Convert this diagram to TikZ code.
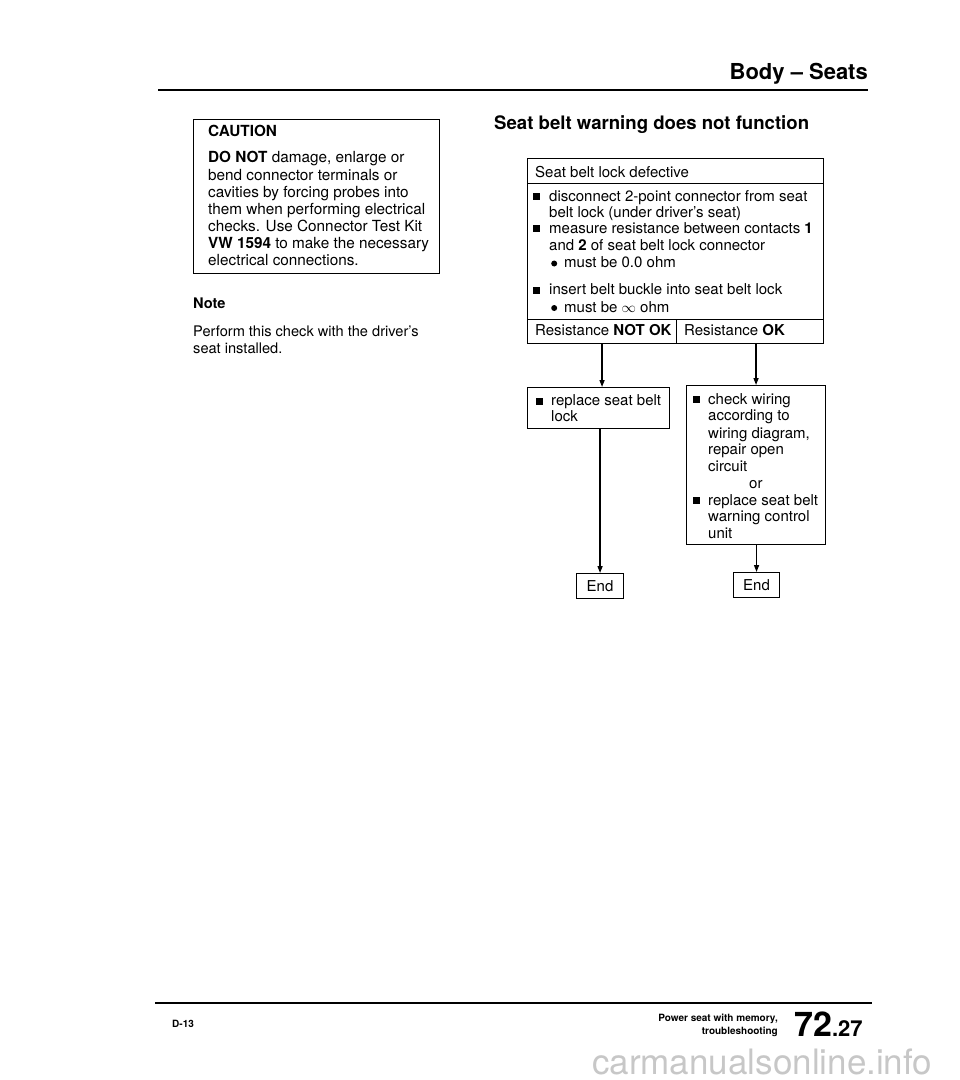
\documentclass[tikz,border=0pt]{standalone}
\usepackage{fontspec}
\setmainfont{TeX Gyre Heros}
\usetikzlibrary{arrows.meta}
\newcommand{\bodyfont}{\fontsize{15}{17}\selectfont}
\newcommand{\cautfont}{\fontsize{15.3}{17}\selectfont}
\newcommand{\notefont}{\fontsize{14.6}{17}\selectfont}
\newcommand{\sqb}{\rule[1pt]{7pt}{7pt}}
\newcommand{\rdot}{\tikz[baseline=-4pt]\fill (0,0) circle[radius=3pt];}
\begin{document}
\begin{tikzpicture}[x=1pt,y=-1pt,
  box/.style={draw, line width=1.1pt, inner sep=0pt, anchor=north west},
  txt/.style={anchor=base west, inner sep=0pt, font=\bodyfont},
  ctx/.style={anchor=base west, inner sep=0pt, font=\cautfont},
  ntx/.style={anchor=base west, inner sep=0pt, font=\notefont},
  ctxt/.style={anchor=base, inner sep=0pt, font=\bodyfont},
  arr/.style={line width=1.5pt, -{Triangle[length=7pt,width=5pt]}},
  rule/.style={line width=2.2pt}]
\useasboundingbox (0,0) rectangle (960,1080);

% header
\node[anchor=base east, inner sep=0pt, font=\fontsize{22}{24}\selectfont\bfseries] (head) at (868,79) {Body -- Seats};
\coordinate (hl) at (158,90);
\coordinate (hr) at (868,90);
\draw[rule] (hl) -- (hr);

% caution box
\node[box, minimum width=246pt, minimum height=154pt] (caution) at (193,119) {};
\node[ctx, font=\cautfont\bfseries] (cap) at (208,136.5) {CAUTION};
\node[ctx] (c1) at (208,162.5) {\textbf{DO NOT} damage, enlarge or};
\node[ctx] (c2) at (208,180) {bend connector terminals or};
\node[ctx] (c3) at (208,197.5) {cavities by forcing probes into};
\node[ctx] (c4) at (208,214) {them when performing electrical};
\node[ctx] (c5) at (208,231) {checks. Use Connector Test Kit};
\node[ctx] (c6) at (208,248) {\textbf{VW 1594} to make the necessary};
\node[ctx] (c7) at (208,265) {electrical connections.};

% note
\node[ntx, font=\notefont\bfseries] (note) at (193,308.5) {Note};
\node[ntx] (n1) at (193,336.5) {Perform this check with the driver's};
\node[ntx] (n2) at (193,353) {seat installed.};

% title
\node[anchor=base west, inner sep=0pt, font=\fontsize{18.6}{20}\selectfont\bfseries] (title) at (494,129) {Seat belt warning does not function};

% main box
\node[box, minimum width=296pt, minimum height=25pt] (hdr) at (527,158) {};
\node[box, minimum width=296pt, minimum height=136pt] (body) at (527,183) {};
\node[box, minimum width=149pt, minimum height=24pt] (r1) at (527,319) {};
\node[box, minimum width=147pt, minimum height=24pt] (r2) at (676,319) {};

\node[txt] at (535,177.5) {Seat belt lock defective};
\node[txt] at (533,201) {\makebox[16pt][l]{\sqb}disconnect 2-point connector from seat};
\node[txt] at (549,217) {belt lock (under driver's seat)};
\node[txt] at (533,233) {\makebox[16pt][l]{\sqb}measure resistance between contacts \textbf{1}};
\node[txt] at (549,250) {and \textbf{2} of seat belt lock connector};
\node[txt] at (551,267.5) {\makebox[13pt][l]{\rdot}must be 0.0 ohm};
\node[txt] at (533,294.5) {\makebox[16pt][l]{\sqb}insert belt buckle into seat belt lock};
\node[txt] at (551,312) {\makebox[13pt][l]{\rdot}must be $\infty$ ohm};
\node[txt] at (535,335.5) {Resistance \textbf{NOT OK}};
\node[txt] at (684,335.5) {Resistance \textbf{OK}};

% left branch
\node[box, minimum width=142pt, minimum height=41pt] (lb) at (527,387) {};
\node[txt] at (536,405.5) {\makebox[15pt][l]{\sqb}replace seat belt};
\node[txt] at (551,421.5) {lock};
\node[box, minimum width=47pt, minimum height=25pt] (endl) at (576,573) {};
\node[ctxt] at ([yshift=-5pt]endl.center) {End};

% right branch
\node[box, minimum width=139pt, minimum height=159pt] (rb) at (686,385) {};
\node[txt] at (693,404) {\makebox[15pt][l]{\sqb}check wiring};
\node[txt] at (708,420.5) {according to};
\node[txt] at (708,438) {wiring diagram,};
\node[txt] at (708,454.5) {repair open};
\node[txt] at (708,471) {circuit};
\node[txt] at (749,488) {or};
\node[txt] at (693,505) {\makebox[15pt][l]{\sqb}replace seat belt};
\node[txt] at (708,521) {warning control};
\node[txt] at (708,538) {unit};
\node[box, minimum width=46pt, minimum height=25pt] (endr) at (733,572) {};
\node[ctxt] at ([yshift=-5pt]endr.center) {End};

% connectors
\draw[arr] (r1.south) -- (r1.south |- lb.north);
\draw[arr] (r2.south -| rb.north) -- (rb.north);
\draw[arr] (lb.south -| endl.north) -- (endl.north);
\draw[arr] (rb.south -| endr.north) -- (endr.north);

% footer
\coordinate (fl) at (155,1003);
\coordinate (fr) at (872,1003);
\draw[rule] (fl) -- (fr);
\node[anchor=base west, inner sep=0pt, font=\fontsize{10}{12}\selectfont\bfseries] (pg) at (172,1027) {D-13};
\node[anchor=base east, inner sep=0pt, font=\fontsize{10}{12}\selectfont\bfseries] (f1) at (778,1021) {Power seat with memory,};
\node[anchor=base east, inner sep=0pt, font=\fontsize{10}{12}\selectfont\bfseries] (f2) at (778,1034) {troubleshooting};
\node[anchor=base west, inner sep=0pt, font=\fontsize{34}{36}\selectfont\bfseries] (big) at (794,1036) {72\fontsize{22}{24}\selectfont.27};

% watermark
\node[anchor=base west, inner sep=0pt, text depth=0pt, text=black!22, font=\fontsize{35}{37}\selectfont] (wm) at (592,1074) {carmanualsonline.info};
\end{tikzpicture}
\end{document}
